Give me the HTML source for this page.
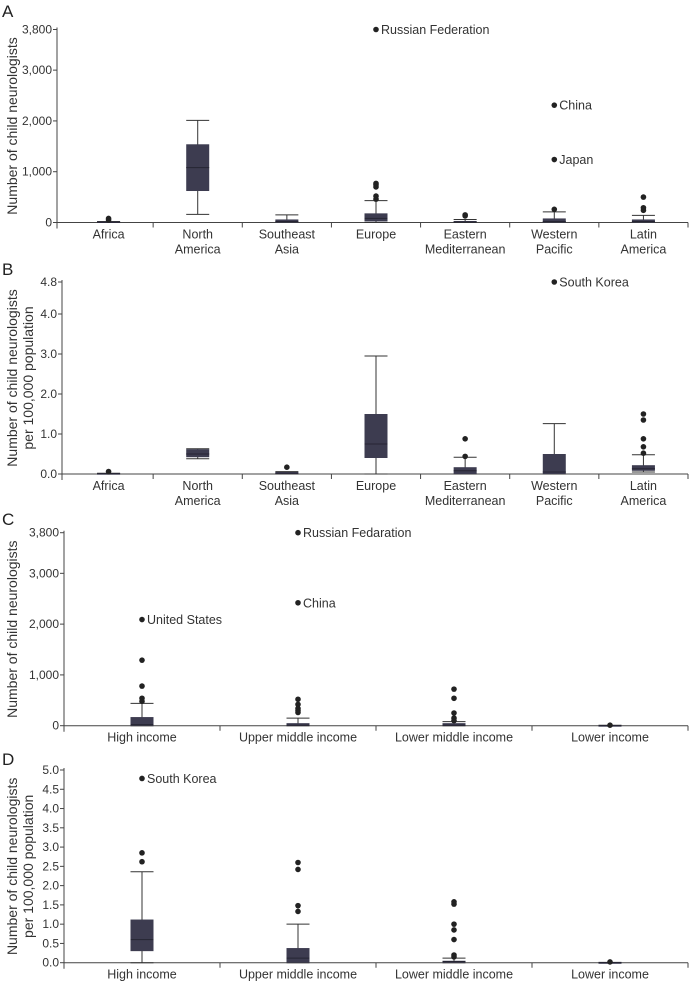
<!DOCTYPE html>
<html><head><meta charset="utf-8"><style>
html,body{margin:0;padding:0;background:#fff;}
svg{display:block;font-family:"Liberation Sans",sans-serif;}
</style></head><body>
<svg id="chart" width="690" height="981"></svg>
<script>
// ---- Data ----
const regionCats = ["Africa","North America","Southeast Asia","Europe","Eastern Mediterranean","Western Pacific","Latin America"];
const regionLabels = [["Africa"],["North","America"],["Southeast","Asia"],["Europe"],["Eastern","Mediterranean"],["Western","Pacific"],["Latin","America"]];
const incomeCats = ["High income","Upper middle income","Lower middle income","Lower income"];
// box stats: [whiskerLow, q1, median, q3, whiskerHigh]
const aStats = [[0,0,5,20,20],[160,620,1080,1540,2010],[0,0,20,60,150],[0,20,80,180,430],[0,0,10,30,60],[0,0,20,80,210],[0,0,20,60,140]];
const aOutliers = [[50,80],[],[],[460,520,700,740,770,3800],[130,150],[260,1240,2310],[240,290,500]];
const aNamed = [{cat:3,v:3800,name:"Russian Federation"},{cat:5,v:2310,name:"China"},{cat:5,v:1240,name:"Japan"}];
const aTicks = [0,1000,2000,3000,3800];
const aTickLabels = ["0","1,000","2,000","3,000","3,800"];

const bStats = [[0,0,0.01,0.02,0.02],[0.38,0.42,0.5,0.62,0.63],[0,0,0.02,0.05,0.06],[0,0.4,0.75,1.5,2.95],[0,0,0.08,0.17,0.42],[0,0,0.05,0.5,1.26],[0.05,0.08,0.13,0.22,0.48]];
const bOutliers = [[0.06],[],[0.17],[],[0.44,0.88],[4.8],[0.52,0.68,0.88,1.35,1.5]];
const bNamed = [{cat:5,v:4.8,name:"South Korea"}];
const bTicks = [0,1,2,3,4,4.8];
const bTickLabels = ["0.0","1.0","2.0","3.0","4.0","4.8"];

const cStats = [[0,0,20,170,440],[0,0,10,50,150],[0,0,10,50,80],[0,0,3,10,10]];
const cOutliers = [[480,540,780,1290,2090],[260,300,340,420,520,2420,3800],[100,150,250,540,720],[10]];
const cNamed = [{cat:0,v:2090,name:"United States"},{cat:1,v:2420,name:"China"},{cat:1,v:3800,name:"Russian Fedaration"}];
const cTicks = [0,1000,2000,3000,3800];
const cTickLabels = ["0","1,000","2,000","3,000","3,800"];

const dStats = [[0,0.3,0.6,1.12,2.36],[0,0,0.12,0.38,1.0],[0,0,0.03,0.05,0.12],[0,0,0.005,0.01,0.01]];
const dOutliers = [[2.62,2.85,4.78],[1.33,1.48,2.42,2.6],[0.15,0.2,0.6,0.85,1.0,1.52,1.58],[0.02]];
const dNamed = [{cat:0,v:4.78,name:"South Korea"}];
const dTicks = [0,0.5,1,1.5,2,2.5,3,3.5,4,4.5,5];
const dTickLabels = ["0.0","0.5","1.0","1.5","2.0","2.5","3.0","3.5","4.0","4.5","5.0"];

const NS="http://www.w3.org/2000/svg";
const svg=document.getElementById('chart');
function mk(tag,attrs,parent){const e=document.createElementNS(NS,tag);for(const k in attrs)e.setAttribute(k,attrs[k]);(parent||svg).appendChild(e);return e;}

function panel(cfg){
  const g=mk('g',{});
  
  
  const {axisX,x0,x1,yTop,yBot,vMax,cats,labels,stats,outs,named,ticks,tickLabels}=cfg;
  const y=v=>yBot-(v/vMax)*(yBot-yTop);
  const bw=(x1-x0)/cats.length;
  const cx=i=>x0+bw*(i+0.5);
  const L=mk('text',{x:2,y:cfg.letterY,'font-size':17,fill:'#222'},g);L.textContent=cfg.letter;
  
  
  const tg=mk('text',{transform:`translate(${cfg.titleX},${(yTop+yBot)/2}) rotate(-90)`,'text-anchor':'middle','font-size':14,fill:'#333'},g);
  
  
  cfg.title.forEach((t,k)=>{const s=mk('tspan',{x:0,dy:k===0?0:16},tg);s.textContent=t;});
  const ya=mk('line',{x1:axisX,x2:axisX,y1:yTop-2,y2:yBot+6,stroke:'#444','stroke-width':1},g);
  
  
  const xa=mk('line',{x1:axisX,x2:x1,y1:yBot,y2:yBot,stroke:'#444','stroke-width':1},g);
  
  
  ticks.forEach((t,k)=>{
    mk('line',{x1:axisX-4,x2:axisX,y1:y(t),y2:y(t),stroke:'#444'},g);
    const tl=mk('text',{x:axisX-5,y:y(t)+4,'text-anchor':'end','font-size':12,fill:'#333'},g);
    tl.textContent=tickLabels[k];
    
    
  });
  for(let i=1;i<=cats.length;i++){mk('line',{x1:x0+bw*i,x2:x0+bw*i,y1:yBot,y2:yBot+5,stroke:'#444'},g);}
  cats.forEach((c,i)=>{
    const lab=labels[i];
    const t=mk('text',{x:cx(i),y:yBot+16,'text-anchor':'middle','font-size':12.5,fill:'#333'},g);
    
    
    lab.forEach((s,k)=>{const sp=mk('tspan',{x:cx(i),dy:k?15:0},t);sp.textContent=s;});
    const s=stats[i];const bg=mk('g',{},g);
    
    
    const hw=11.5;
    mk('line',{x1:cx(i),x2:cx(i),y1:y(s[0]),y2:y(s[4]),stroke:'#333','stroke-width':1},bg);
    mk('line',{x1:cx(i)-hw,x2:cx(i)+hw,y1:y(s[4]),y2:y(s[4]),stroke:'#333','stroke-width':1},bg);
    mk('line',{x1:cx(i)-hw,x2:cx(i)+hw,y1:y(s[0]),y2:y(s[0]),stroke:'#333','stroke-width':1},bg);
    mk('rect',{x:cx(i)-hw,y:y(s[3]),width:2*hw,height:Math.max(1.5,y(s[1])-y(s[3])),fill:'#3d3c50'},bg);
    mk('line',{x1:cx(i)-hw,x2:cx(i)+hw,y1:y(s[2]),y2:y(s[2]),stroke:'#262533','stroke-width':1},bg);
    outs[i].forEach(v=>{
      const p=mk('circle',{cx:cx(i),cy:y(v),r:2.8,fill:'#222'},bg);
      
      
    });
  });
  named.forEach(n=>{
    const t=mk('text',{x:cx(n.cat)+5,y:y(n.v)+4.5,'font-size':12.5,fill:'#333'},g);
    t.textContent=n.name;
    
    
  });
}
panel({id:'panel-a',letter:'A',letterY:17,axisX:57,x0:64,x1:688,yTop:29.5,yBot:222.5,vMax:3800,cats:regionCats,labels:regionLabels,stats:aStats,outs:aOutliers,named:aNamed,ticks:aTicks,tickLabels:aTickLabels,title:['Number of child neurologists'],titleX:17});
panel({id:'panel-b',letter:'B',letterY:275,axisX:62,x0:64,x1:688,yTop:282,yBot:474,vMax:4.8,cats:regionCats,labels:regionLabels,stats:bStats,outs:bOutliers,named:bNamed,ticks:bTicks,tickLabels:bTickLabels,title:['Number of child neurologists','per 100,000 population'],titleX:17});
panel({id:'panel-c',letter:'C',letterY:525,axisX:64,x0:64,x1:688,yTop:532.7,yBot:725.7,vMax:3800,cats:incomeCats,labels:incomeCats.map(s=>[s]),stats:cStats,outs:cOutliers,named:cNamed,ticks:cTicks,tickLabels:cTickLabels,title:['Number of child neurologists'],titleX:17});
panel({id:'panel-d',letter:'D',letterY:765,axisX:64,x0:64,x1:688,yTop:770,yBot:962.7,vMax:5,cats:incomeCats,labels:incomeCats.map(s=>[s]),stats:dStats,outs:dOutliers,named:dNamed,ticks:dTicks,tickLabels:dTickLabels,title:['Number of child neurologists','per 100,000 population'],titleX:17});
</script>
</body></html>
